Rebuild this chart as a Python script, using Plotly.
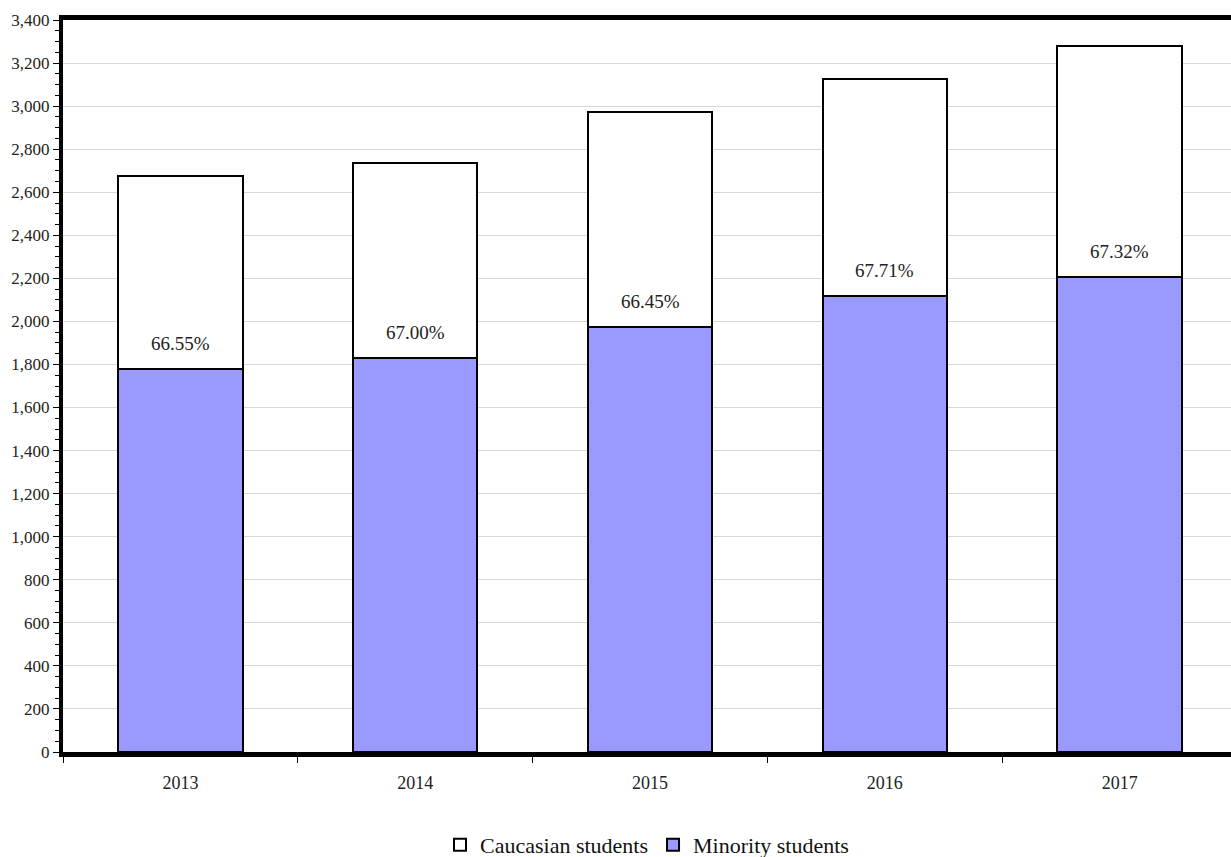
import plotly.graph_objects as go

years = ["2013", "2014", "2015", "2016", "2017"]
minority = [1781, 1830, 1973, 2116, 2208]
caucasian = [895, 907, 1000, 1009, 1071]
pct_labels = ["66.55%", "67.00%", "66.45%", "67.71%", "67.32%"]

font_family = "Liberation Serif, Times New Roman, serif"

fig = go.Figure()
fig.add_trace(go.Bar(
    x=years, y=minority, name="Minority students",
    marker=dict(color="#9999ff", line=dict(color="black", width=2)),
    width=0.53,
))
fig.add_trace(go.Bar(
    x=years, y=caucasian, name="Caucasian students",
    marker=dict(color="white", line=dict(color="black", width=2)),
    width=0.53,
))

annotations = []
for i, (m, lab) in enumerate(zip(minority, pct_labels)):
    annotations.append(dict(
        x=i, y=m, xref="x", yref="y", text=lab, showarrow=False,
        xanchor="center", yanchor="bottom", yshift=13,
        font=dict(family=font_family, size=19, color="#222"),
    ))

fig.update_layout(
    barmode="stack",
    width=1231, height=857,
    margin=dict(l=63, r=0, t=20, b=105, autoexpand=False),
    plot_bgcolor="white", paper_bgcolor="white",
    font=dict(family=font_family, size=16, color="#222"),
    legend=dict(orientation="h", x=0.5, xanchor="center", y=-0.127, yanchor="middle",
                traceorder="reversed", font=dict(size=22, color="#111"),
                itemwidth=30),
    showlegend=True,
    annotations=annotations,
)
fig.update_xaxes(
    type="category", range=[-0.5, 4.474],
    showline=True, linecolor="black", linewidth=5, mirror=True,
    ticks="outside", ticklen=6, tickwidth=1, tickcolor="black",
    tickson="boundaries", showgrid=False,
    tickfont=dict(size=18), ticklabelstandoff=10,
)
fig.update_yaxes(
    range=[0, 3400], dtick=200, tickformat=",",
    showline=True, linecolor="black", linewidth=4, mirror=True,
    ticks="outside", ticklen=6, tickwidth=1, tickcolor="black",
    showgrid=True, gridcolor="#d6d6d6", gridwidth=1,
    minor=dict(dtick=50, ticks="outside", ticklen=4, tickcolor="black", showgrid=False),
    zeroline=False, tickfont=dict(size=17),
)

fig.write_html("out.html")
